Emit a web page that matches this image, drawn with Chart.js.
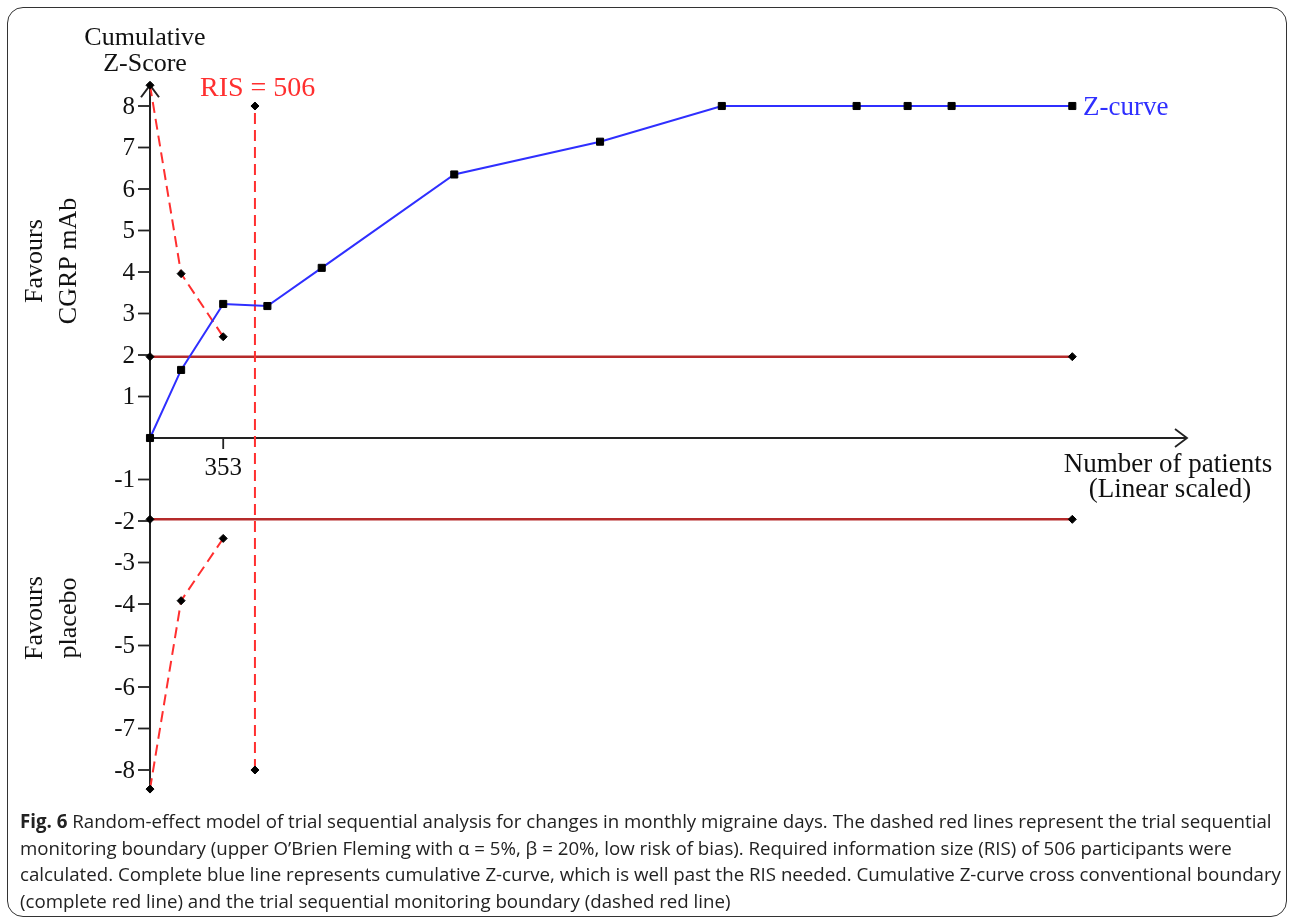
<!DOCTYPE html>
<html>
<head>
<meta charset="utf-8">
<script src="https://cdn.jsdelivr.net/npm/chart.js@4.4.0/dist/chart.umd.min.js"></script>
<style>
  body { margin: 0; background: #fff; }
  #wrap { position: relative; width: 1292px; height: 921px; overflow: hidden; }
  #frame {
    position: absolute; left: 7px; top: 7px; width: 1280px; height: 910px;
    border: 1.5px solid #333; border-radius: 16px; box-sizing: border-box;
  }
  #caption {
    position: absolute; left: 20px; top: 808px;
    font-family: "Open Sans", sans-serif; font-size: 18.7px; line-height: 26.5px; color: #222;
  }
  #caption div { white-space: nowrap; }
  canvas { position: absolute; left: 0; top: 0; }
</style>
</head>
<body>
<div id="wrap">
  <canvas id="tsaChart" width="1292" height="921"></canvas>
  <div id="frame"></div>
  <div id="caption">
    <div><b>Fig. 6</b> Random-effect model of trial sequential analysis for changes in monthly migraine days. The dashed red lines represent the trial sequential</div>
    <div>monitoring boundary (upper O’Brien Fleming with α = 5%, β = 20%, low risk of bias). Required information size (RIS) of 506 participants were</div>
    <div>calculated. Complete blue line represents cumulative Z-curve, which is well past the RIS needed. Cumulative Z-curve cross conventional boundary</div>
    <div>(complete red line) and the trial sequential monitoring boundary (dashed red line)</div>
  </div>
</div>
<script>
  // Cumulative Z-curve (number of patients, z-score)
  const zPatients = [0, 150, 353, 566, 828, 1467, 2170, 2757, 3407, 3653, 3865, 4447];
  const zScores = [0, 1.64, 3.23, 3.18, 4.10, 6.35, 7.14, 8.0, 8.0, 8.0, 8.0, 8.0];

  // O'Brien Fleming monitoring boundaries (dashed red)
  const boundPatients = [0, 150, 353];
  const upperBound = [8.5, 3.96, 2.44];
  const lowerBound = [-8.46, -3.92, -2.42];

  // Required information size
  const risPatients = [506, 506];
  const risZ = [-8, 8];

  // Conventional boundary +/-1.96
  const convPatients = [0, 4447];
  const convUpper = [1.96, 1.96];
  const convLower = [-1.96, -1.96];

  // Axis ticks
  const yTicks = [8, 7, 6, 5, 4, 3, 2, 1, -1, -2, -3, -4, -5, -6, -7, -8];
  const xTicks = [353];

  function toPoints(xs, ys) {
    return xs.map((x, i) => ({ x: x, y: ys[i] }));
  }

  const serif = '"Liberation Serif", "Times New Roman", serif';
  const blue = "#2f2fff";
  const dashRed = "#ff2f2f";
  const convRed = "#b52a2a";

  // Draws the arrowed axes, ticks and the text labels
  const tsaAxes = {
    id: "tsaAxes",
    beforeDatasetsDraw(chart) {
      const ctx = chart.ctx;
      const xs = chart.scales.x;
      const ys = chart.scales.y;
      const x0 = xs.getPixelForValue(0);
      const y0 = ys.getPixelForValue(0);
      const yTop = ys.getPixelForValue(8.5);
      const yBot = ys.getPixelForValue(-8.5);
      const xEnd = chart.chartArea.right;

      ctx.save();
      ctx.strokeStyle = "#222";
      ctx.fillStyle = "#111";
      ctx.lineWidth = 2;

      // y axis + arrow
      ctx.beginPath();
      ctx.moveTo(x0, yBot);
      ctx.lineTo(x0, yTop);
      ctx.moveTo(x0 - 9, yTop + 12);
      ctx.lineTo(x0, yTop);
      ctx.lineTo(x0 + 9, yTop + 12);
      ctx.stroke();

      // x axis + arrow
      ctx.lineWidth = 1.8;
      ctx.beginPath();
      ctx.moveTo(x0, y0);
      ctx.lineTo(xEnd, y0);
      ctx.moveTo(xEnd - 12, y0 - 9);
      ctx.lineTo(xEnd, y0);
      ctx.lineTo(xEnd - 12, y0 + 9);
      ctx.stroke();

      // y ticks
      ctx.font = "25px " + serif;
      ctx.textAlign = "right";
      ctx.textBaseline = "middle";
      yTicks.forEach(v => {
        const py = ys.getPixelForValue(v);
        ctx.beginPath();
        ctx.moveTo(x0 - 12, py);
        ctx.lineTo(x0, py);
        ctx.stroke();
        ctx.fillText(String(v), x0 - 15, py + 1);
      });

      // x ticks
      ctx.textAlign = "center";
      ctx.textBaseline = "alphabetic";
      xTicks.forEach(v => {
        const px = xs.getPixelForValue(v);
        ctx.beginPath();
        ctx.moveTo(px, y0);
        ctx.lineTo(px, y0 + 11);
        ctx.stroke();
        ctx.fillText(String(v), px, y0 + 37);
      });
      ctx.restore();
    },
    afterDraw(chart) {
      const ctx = chart.ctx;
      ctx.save();
      ctx.fillStyle = "#111";
      ctx.font = "26px " + serif;
      ctx.textAlign = "center";
      ctx.fillText("Cumulative", 145, 45);
      ctx.fillText("Z-Score", 145, 71);

      ctx.font = "27px " + serif;
      ctx.fillText("Number of patients", 1168, 472);
      ctx.fillText("(Linear scaled)", 1170, 497);

      ctx.fillStyle = dashRed;
      ctx.font = "28px " + serif;
      ctx.textAlign = "left";
      ctx.fillText("RIS = 506", 200, 96);

      ctx.fillStyle = blue;
      ctx.font = "27px " + serif;
      ctx.fillText("Z-curve", 1083, 115);

      // rotated side labels
      ctx.fillStyle = "#111";
      ctx.font = "26px " + serif;
      ctx.textAlign = "center";
      ctx.textBaseline = "middle";
      const side = (l1, l2, cy) => {
        ctx.save();
        ctx.translate(0, cy);
        ctx.rotate(-Math.PI / 2);
        ctx.fillText(l1, 0, 35);
        ctx.fillText(l2, 0, 69);
        ctx.restore();
      };
      side("Favours", "CGRP mAb", 261);
      side("Favours", "placebo", 618);
      ctx.restore();
    }
  };

  const markerDefaults = {
    pointBackgroundColor: "#000",
    pointBorderColor: "#000",
    pointBorderWidth: 1,
    showLine: true,
    fill: false,
    tension: 0
  };

  new Chart(document.getElementById("tsaChart"), {
    type: "scatter",
    data: {
      datasets: [
        Object.assign({}, markerDefaults, {
          label: "Z-curve",
          data: toPoints(zPatients, zScores),
          borderColor: blue,
          borderWidth: 2,
          pointStyle: "rect",
          pointRadius: 5
        }),
        Object.assign({}, markerDefaults, {
          label: "Upper boundary",
          data: toPoints(boundPatients, upperBound),
          borderColor: dashRed,
          borderWidth: 2,
          borderDash: [11, 6],
          pointStyle: "rectRot",
          pointRadius: 4
        }),
        Object.assign({}, markerDefaults, {
          label: "Lower boundary",
          data: toPoints(boundPatients, lowerBound),
          borderColor: dashRed,
          borderWidth: 2,
          borderDash: [11, 6],
          pointStyle: "rectRot",
          pointRadius: 4
        }),
        Object.assign({}, markerDefaults, {
          label: "RIS",
          data: toPoints(risPatients, risZ),
          borderColor: dashRed,
          borderWidth: 2,
          borderDash: [11, 6],
          pointStyle: "rectRot",
          pointRadius: 4
        }),
        Object.assign({}, markerDefaults, {
          label: "Conventional upper",
          data: toPoints(convPatients, convUpper),
          borderColor: convRed,
          borderWidth: 2.5,
          pointStyle: "rectRot",
          pointRadius: 4
        }),
        Object.assign({}, markerDefaults, {
          label: "Conventional lower",
          data: toPoints(convPatients, convLower),
          borderColor: convRed,
          borderWidth: 2.5,
          pointStyle: "rectRot",
          pointRadius: 4
        })
      ]
    },
    options: {
      responsive: false,
      animation: false,
      layout: {
        padding: { left: 150, right: 105, top: 64.5, bottom: 109.5 }
      },
      scales: {
        x: { type: "linear", min: 0, max: 5000, display: false },
        y: { type: "linear", min: -9, max: 9, display: false }
      },
      plugins: {
        legend: { display: false },
        tooltip: { enabled: false }
      },
      clip: false
    },
    plugins: [tsaAxes]
  });
</script>
</body>
</html>
